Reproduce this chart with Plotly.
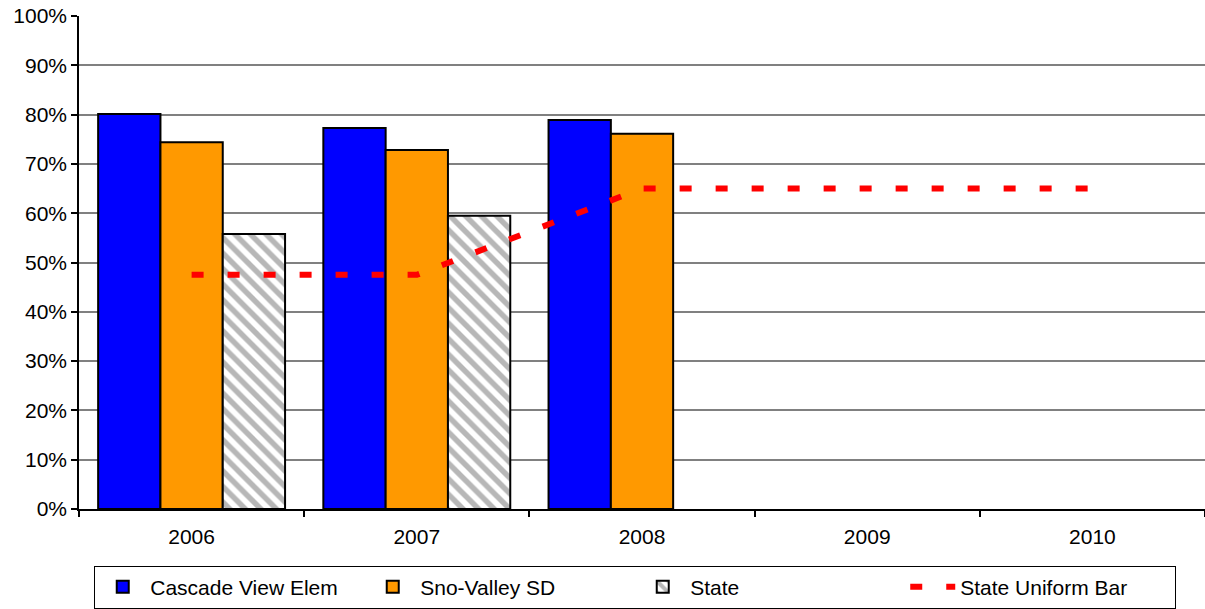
import plotly.graph_objects as go

# categories and series (percent)
years = ['2006', '2007', '2008', '2009', '2010']
cascade = [80.1, 77.3, 78.9, None, None]
sno_valley = [74.4, 72.8, 76.1, None, None]
state = [55.8, 59.5, None, None, None]
uniform_bar = [47.5, 47.5, 65.0, 65.0, 65.0]

fig = go.Figure()

fig.add_trace(go.Bar(
    x=years, y=cascade, name='Cascade View Elem',
    marker=dict(color='#0000FF', line=dict(color='black', width=2))
))
fig.add_trace(go.Bar(
    x=years, y=sno_valley, name='Sno-Valley SD',
    marker=dict(color='#FF9900', line=dict(color='black', width=2))
))
fig.add_trace(go.Bar(
    x=years, y=state, name='State',
    marker=dict(color='white', line=dict(color='black', width=2),
                pattern=dict(shape='\\', fgcolor='#707070', bgcolor='white',
                             size=11, solidity=0.5))
))
fig.add_trace(go.Scatter(
    x=years, y=uniform_bar, name='State Uniform Bar', mode='lines',
    line=dict(color='#FF0000', width=6, dash='12px,24px')
))

fig.update_layout(
    width=1205, height=609,
    margin=dict(l=79, r=0, t=16, b=100, autoexpand=False),
    paper_bgcolor='white', plot_bgcolor='white',
    font=dict(family='Arial, Liberation Sans, sans-serif', size=20, color='black'),
    barmode='group', bargap=0.17, bargroupgap=0,
    showlegend=True,
    legend=dict(orientation='h', x=0.494, xanchor='center', y=-0.115, yanchor='top',
                bordercolor='black', borderwidth=1, bgcolor='white',
                font=dict(size=21), itemwidth=45, entrywidth=210,
                tracegroupgap=0),
)

fig.update_xaxes(
    showline=True, linecolor='black', linewidth=1.5,
    ticks='outside', ticklen=6, tickcolor='black', tickwidth=1.5,
    tickson='boundaries', showgrid=False, automargin=False,
    tickfont=dict(size=21), ticklabelstandoff=8,
)
fig.update_yaxes(
    range=[0, 100], dtick=10, ticksuffix='%',
    showline=True, linecolor='black', linewidth=1.5,
    ticks='outside', ticklen=6, tickcolor='black', tickwidth=1.5,
    showgrid=True, gridcolor='#808080', gridwidth=1.5,
    tickfont=dict(size=21), zeroline=False, automargin=False,
)

# remove the browser's default body margin so the figure sits at the page corner
fig.write_html("out.html", config={'displayModeBar': False},
               post_script="document.body.style.margin='0';")
